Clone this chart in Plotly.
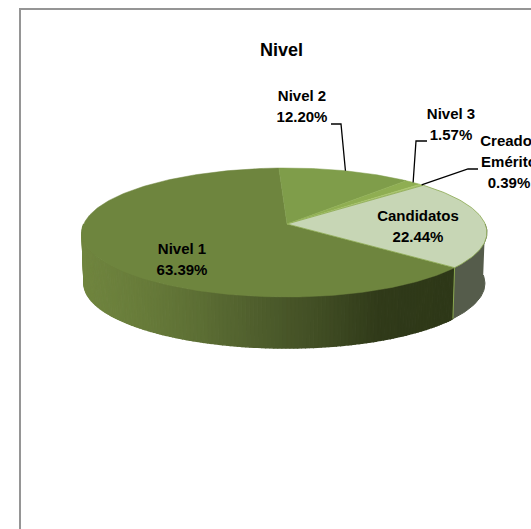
import math
import plotly.graph_objects as go

# ---- data ----
categories = ["Nivel 1", "Nivel 2", "Nivel 3", "Creador Emérito", "Candidatos"]
shares = [63.39, 12.20, 1.57, 0.39, 22.44]
label_lines = [["Nivel 1", "63.39%"], ["Nivel 2", "12.20%"], ["Nivel 3", "1.57%"],
               ["Creador", "Emérito", "0.39%"], ["Candidatos", "22.44%"]]
top_colors = ["#6e853e", "#7f9d4a", "#8fae52", "#a9c46c", "#c7d6b5"]
title_text = "Nivel"

# ---- view of the disc (pixels of the page) ----
W, H = 531, 529
APEX = (287.0, 224.0)
A_P, B_P, K = 201.2, 63.4, 0.1318   # perspective projection of the unit circle
SCALE_LEFT, SCALE_RIGHT = 1.01, 0.985
DEPTH = 51.0
START_DEG = 357.4                    # clockwise from the far side, start of Nivel 1
FONT = "Liberation Sans, Arial, sans-serif"
LABEL_X = [182, 302, 451, 509, 418]
LABEL_FIRST_Y = [250, 97, 115, 142, 217]
LINE_STEP = 21
SIDE_STOPS = [(82, (112, 133, 63)), (140, (104, 124, 58)), (200, (92, 110, 52)),
              (260, (78, 93, 44)), (330, (62, 74, 34)), (380, (48, 58, 25)), (452, (46, 56, 24))]
CAND_SIDE = "#555c4b"
RIM = "#8aa84f"


def project(deg, depth=0.0):
    t = math.radians(deg)
    u, v = math.sin(t), math.cos(t)
    d = 1 + K * v
    shrink = 0.99 if depth > 0 else 1.0
    side = SCALE_RIGHT if u > 0 else SCALE_LEFT
    return APEX[0] + A_P * u / d * shrink * side, APEX[1] - B_P * v / d + depth


def arc(a0, a1, depth=0.0):
    n = max(2, int(abs(a1 - a0)) + 2)
    pts = [project(a0 + (a1 - a0) * i / (n - 1), depth) for i in range(n)]
    return [p[0] for p in pts], [p[1] for p in pts]


def side_color(x):
    for (x0, c0), (x1, c1) in zip(SIDE_STOPS, SIDE_STOPS[1:]):
        if x <= x1:
            f = max(0.0, (x - x0) / (x1 - x0))
            return "rgb(%d,%d,%d)" % tuple(round(a + (b - a) * f) for a, b in zip(c0, c1))
    return "rgb(%d,%d,%d)" % SIDE_STOPS[-1][1]


# slice angle ranges from the values
total = sum(shares)
order = [1, 2, 3, 4, 0]       # clockwise from the Nivel 1 / Nivel 2 edge
ranges = {}
a = START_DEG - 360
for i in order:
    ranges[i] = (a, a + shares[i] / total * 360)
    a = ranges[i][1]

fig = go.Figure()


def poly(xs, ys, color, line=None, width=1.0):
    fig.add_trace(go.Scatter(x=xs, y=ys, mode="lines", fill="toself", fillcolor=color,
                             line=dict(color=line or color, width=width),
                             hoverinfo="skip", showlegend=False))


# side wall
cand = ranges[4]
n1 = ranges[0]
x0, y0 = arc(90, cand[1])
x1, y1 = arc(90, cand[1], DEPTH)
poly(x0 + x1[::-1], y0 + y1[::-1], CAND_SIDE)
deg = n1[0]
while deg < 270:
    nxt = min(deg + 1, 270)
    x0, y0 = arc(deg, nxt)
    x1, y1 = arc(deg, nxt, DEPTH)
    poly(x0 + x1[::-1], y0 + y1[::-1], side_color(sum(x0) / len(x0)), width=1.5)
    deg = nxt
# light edge between the two wall pieces
e0, e1 = project(cand[1]), project(cand[1], DEPTH)
fig.add_trace(go.Scatter(x=[e0[0], e1[0]], y=[e0[1], e1[1]], mode="lines",
                         line=dict(color=RIM, width=1), hoverinfo="skip", showlegend=False))

# top face
for i in [0, 1, 2, 3, 4]:
    a0, a1 = ranges[i]
    xs, ys = arc(a0, a1)
    poly([APEX[0]] + xs + [APEX[0]], [APEX[1]] + ys + [APEX[1]], top_colors[i],
         line=RIM if i == 4 else top_colors[i], width=0.8 if i == 4 else 0.5)

# leader lines: from the rim at the middle of each small slice to its label
LEADER_BENDS = {1: [(331, 124), (341, 124)], 2: [(427, 141), (416, 141)], 3: [(478, 169), (468, 169)]}
for i, bends in LEADER_BENDS.items():
    end = project(sum(ranges[i]) / 2)
    fig.add_trace(go.Scatter(x=[b[0] for b in bends] + [end[0]], y=[b[1] for b in bends] + [end[1]],
                             mode="lines", line=dict(color="#000000", width=1.3),
                             hoverinfo="skip", showlegend=False))

# labels, one text per line to keep the reference's line spacing
tx, ty, tt = [], [], []
for lines, lx, ly in zip(label_lines, LABEL_X, LABEL_FIRST_Y):
    for j, line in enumerate(lines):
        tx.append(lx)
        ty.append(ly + j * LINE_STEP)
        tt.append("<b>%s</b>" % line)
fig.add_trace(go.Scatter(x=tx, y=ty, mode="text", text=tt,
                         textposition="middle center", cliponaxis=False,
                         textfont=dict(family=FONT, size=15, color="#000000"),
                         hoverinfo="skip", showlegend=False))

fig.update_layout(
    width=W, height=H, margin=dict(l=0, r=0, t=0, b=0, pad=0), autosize=False,
    paper_bgcolor="#ffffff", plot_bgcolor="#ffffff", showlegend=False,
    xaxis=dict(range=[0, W], visible=False, fixedrange=True),
    yaxis=dict(range=[H, 0], visible=False, fixedrange=True),
    shapes=[dict(type="rect", xref="x", yref="y", x0=20, y0=9, x1=W + 5, y1=H + 5,
                 line=dict(color="#959595", width=2), fillcolor="rgba(0,0,0,0)", layer="below")],
    annotations=[dict(text="<b>%s</b>" % title_text, x=281, y=50, xref="x", yref="y", showarrow=False,
                      font=dict(family=FONT, size=18, color="#000000"))],
)

fig.write_html("out.html", config={"displayModeBar": False},
               post_script="document.body.style.margin='0';document.body.style.overflow='hidden';")
